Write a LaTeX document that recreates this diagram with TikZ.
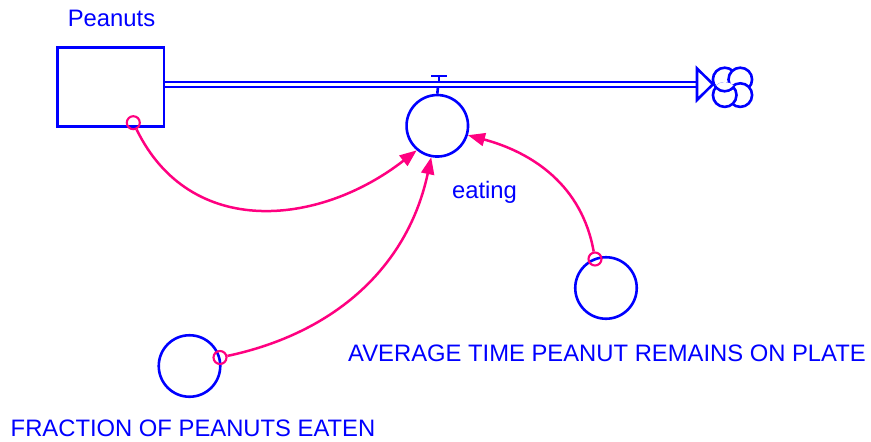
\documentclass[tikz,border=0pt]{standalone}
\usepackage{fontspec}
\setmainfont{Liberation Sans}
\usetikzlibrary{arrows.meta}
\definecolor{vblue}{RGB}{0,0,255}
\definecolor{vpink}{RGB}{255,0,128}
\begin{document}
\begin{tikzpicture}[x=1pt,y=1pt,
  lbl/.style={text=vblue, font=\fontsize{23.8}{28}\selectfont, inner sep=0, anchor=base},
  stockbox/.style={draw=vblue, line width=2.6pt, rectangle, minimum width=106.7pt, minimum height=79pt, inner sep=0},
  auxvar/.style={draw=vblue, line width=2.6pt, circle, minimum size=61.5pt, inner sep=0},
  tail/.style={draw=vpink, line width=2.1pt, circle, minimum size=13pt, inner sep=0},
  link/.style={draw=vpink, line width=2.5pt, -{Triangle[length=17pt,width=13pt]}},
  pipeline/.style={draw=vblue, line width=2.1pt, double=white, double distance=3pt},
  bluestroke/.style={draw=vblue, line width=2.6pt},
  cloudbump/.style={draw=vblue, line width=2.6pt, fill=white},
]
\useasboundingbox (0,0) rectangle (871,-442);
% stock
\node[stockbox] (stock) at (110.7,-87.2) {};
\node[lbl] (stocklbl) at (111.5,-26.7) {Peanuts};
% auxiliaries
\node[auxvar] (eating) at (437.3,-125.8) {};
\node[lbl] (eatinglbl) at (484.5,-198.3) {eating};
\node[auxvar] (avg) at (606,-288) {};
\node[lbl] (avglbl) at (607,-361) {AVERAGE TIME PEANUT REMAINS ON PLATE};
\node[auxvar] (frac) at (189.5,-366) {};
\node[lbl] (fraclbl) at (193,-436.7) {FRACTION OF PEANUTS EATEN};
% pipe
\coordinate (pipey) at (0,-84.2);
\coordinate (pipestart) at (stock.east |- pipey);
\coordinate (pipeend) at (697,-84.2);
\draw[pipeline] (pipestart) -- (pipeend);
% hollow arrowhead
\coordinate (ahtop) at (697,-68.5);
\coordinate (ahtip) at (713,-84.2);
\coordinate (ahbot) at (697,-100);
\draw[bluestroke, fill=white, line join=miter] (ahtop) -- (ahtip) -- (ahbot) -- cycle;
% valve
\coordinate (vbarl) at (431,-76);
\coordinate (vbarr) at (447,-76);
\coordinate (vstemtop) at (439,-76);
\coordinate (vstembot) at (439,-81.7);
\coordinate (vlow) at (438,-86.7);
\draw[bluestroke] (vbarl) -- (vbarr);
\draw[bluestroke] (vstemtop) -- (vstembot);
\draw[bluestroke] (vlow) -- (eating.north);
% cloud (pinwheel of four bumps)
\coordinate (cloud) at (732.5,-87.3);
\draw[cloudbump] ([shift={(-7.8,7.8)}]cloud) circle[radius=11.8];
\draw[cloudbump] ([shift={(7.8,7.8)}]cloud) circle[radius=11.8];
\draw[cloudbump] ([shift={(7.8,-7.8)}]cloud) circle[radius=11.8];
\draw[cloudbump] ([shift={(-7.8,-7.8)}]cloud) circle[radius=11.8];
\begin{scope}
  \clip ([shift={(-7.8,-7.8)}]cloud) circle[radius=13.1];
  \clip ([shift={(-7.8,7.8)}]cloud) circle[radius=13.1];
  \draw[cloudbump] ([shift={(-7.8,7.8)}]cloud) circle[radius=11.8];
\end{scope}
% connector tails
\node[tail] (stocktail) at (133.3,-122.7) {};
\node[tail] (fractail) at (220,-357.5) {};
\node[tail] (avgtail) at (595,-259) {};
% connectors
\draw[link] (stocktail) to[out=-64,in=218,looseness=1.12] (eating.230);
\draw[link] (fractail) to[out=12,in=-102] (eating.259);
\draw[link] (avgtail) to[out=100,in=-15] (eating.343);
\end{tikzpicture}
\end{document}
